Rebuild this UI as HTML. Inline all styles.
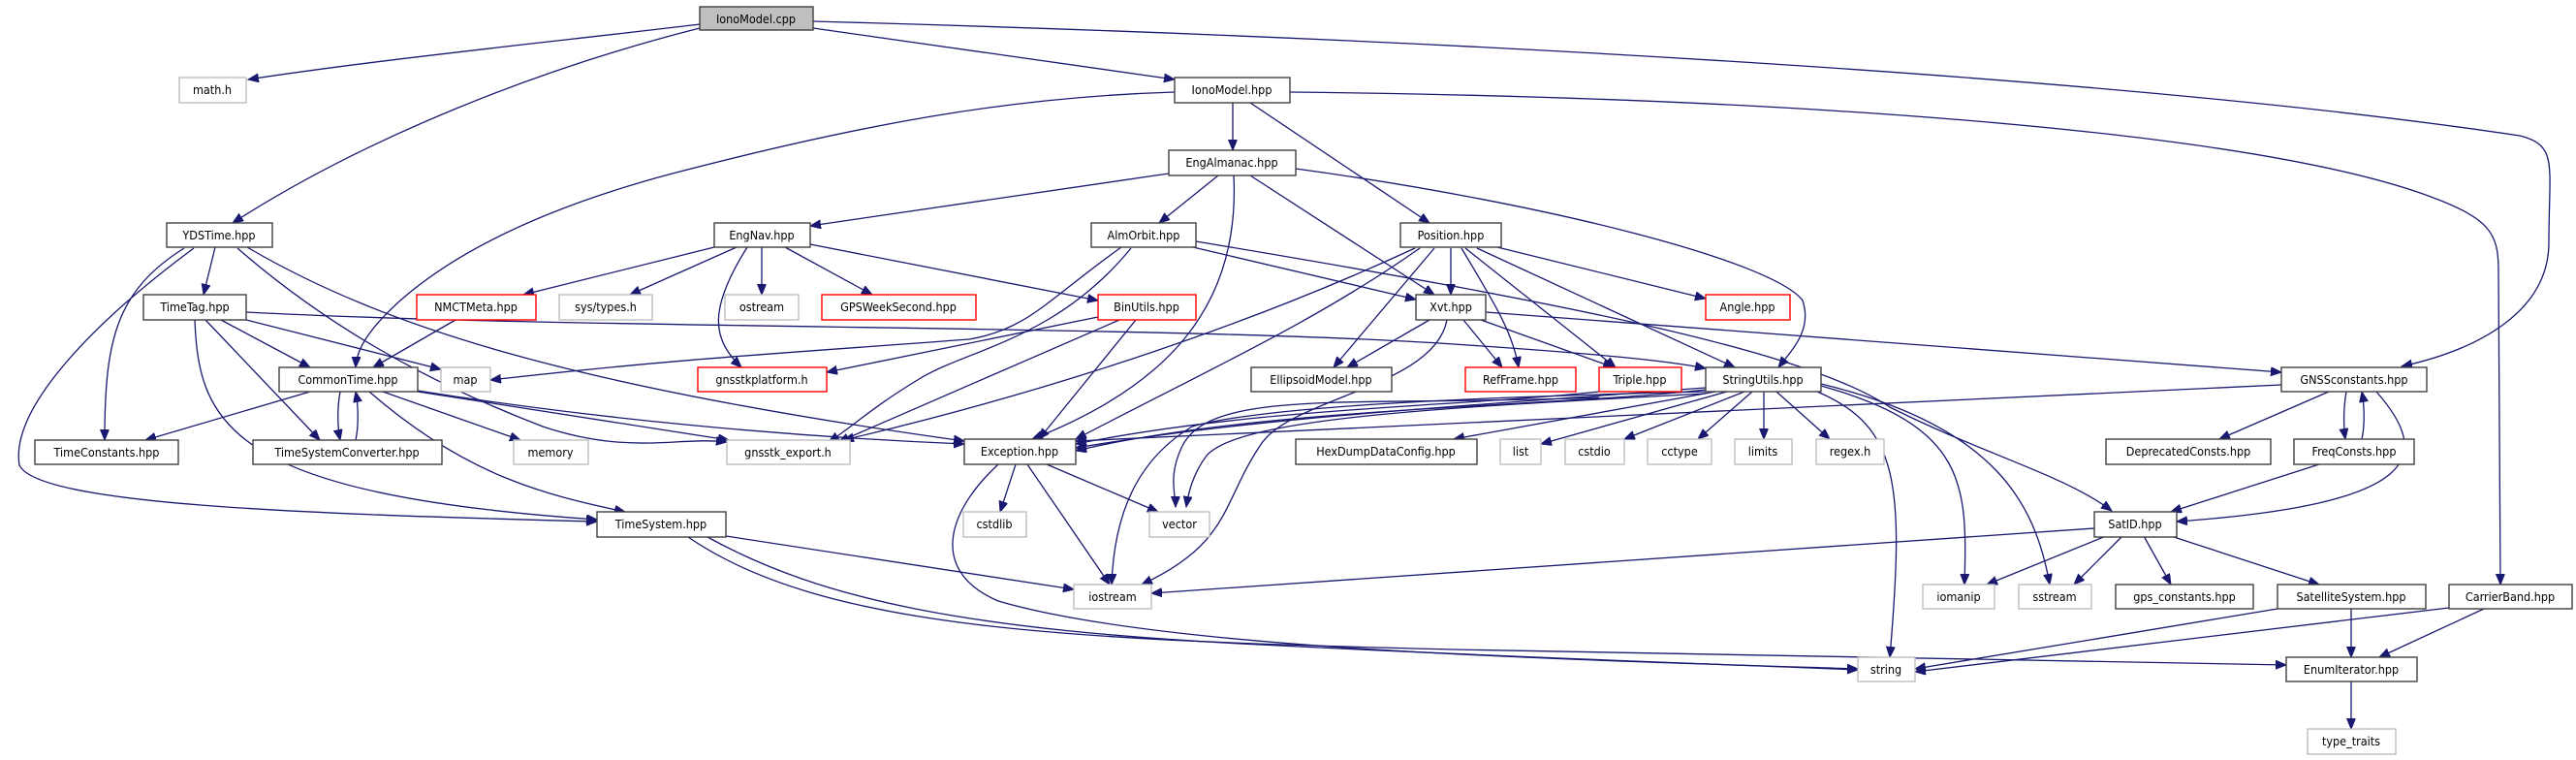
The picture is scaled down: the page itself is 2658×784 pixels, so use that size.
<!DOCTYPE html>
<html><head><meta charset="utf-8"><style>
html,body{margin:0;padding:0;background:#fff;}
svg{display:block;}
text{font-family:"DejaVu Sans Condensed","DejaVu Sans","Liberation Sans",sans-serif;font-size:12.5px;fill:#000;text-anchor:middle;}
.e{fill:none;stroke:#191970;stroke-width:1.3;marker-end:url(#a);}
.b{fill:#fff;stroke:#404040;stroke-width:1.4;}
.g{fill:#fff;stroke:#bfbfbf;stroke-width:1.4;}
.r{fill:#fff;stroke:#ff0000;stroke-width:1.4;}
</style></head><body>
<svg width="2658" height="784" viewBox="0 0 2658 784" xmlns="http://www.w3.org/2000/svg">
<defs><marker id="a" markerUnits="userSpaceOnUse" markerWidth="12" markerHeight="10" refX="11" refY="4.5" orient="auto"><path d="M0,0 L11,4.5 L0,9 z" fill="#191970" stroke="#191970"/></marker></defs>
<g>
<path class="e" d="M722,25 C600,40 400,60 256,82"/>
<path class="e" d="M722,29 C560,70 380,140 240,230"/>
<path class="e" d="M839,29 L1212,82"/>
<path class="e" d="M839,22 C1500,40 2200,80 2600,140 C2640,150 2630,170 2630,250 C2630,320 2560,360 2478,378"/>
<path class="e" d="M1272,106 L1272,155"/>
<path class="e" d="M1290,106 L1475,230"/>
<path class="e" d="M1212,95 C1050,100 900,125 690,180 C560,215 470,260 413,310 C380,340 368,360 367,379"/>
<path class="e" d="M1331,95 C1800,100 2300,130 2500,200 C2570,225 2578,240 2578,280 L2580,603"/>
<path class="e" d="M1206,179 L836,233"/>
<path class="e" d="M1257,181 L1196,230"/>
<path class="e" d="M1273,181 C1280,320 1200,400 1065,453"/>
<path class="e" d="M1290,181 L1480,304"/>
<path class="e" d="M1337,174 C1600,210 1830,270 1860,310 C1870,340 1850,360 1835,379"/>
<path class="e" d="M222,255 L210,304"/>
<path class="e" d="M190,256 C120,300 108,350 108,454"/>
<path class="e" d="M200,256 C100,330 10,420 20,480 C40,520 300,530 616,538"/>
<path class="e" d="M245,256 C330,330 430,390 560,440 C650,470 700,450 750,456"/>
<path class="e" d="M255,255 C400,340 600,400 995,455"/>
<path class="e" d="M254,322 C600,340 1200,335 1500,355 C1650,365 1720,372 1760,380"/>
<path class="e" d="M228,330 L320,379"/>
<path class="e" d="M254,330 L455,381"/>
<path class="e" d="M212,330 L330,454"/>
<path class="e" d="M201,330 C205,440 240,510 616,536"/>
<path class="e" d="M470,330 L385,379"/>
<path class="e" d="M737,255 L540,304"/>
<path class="e" d="M760,255 L650,304"/>
<path class="e" d="M786,255 L786,304"/>
<path class="e" d="M810,255 L900,304"/>
<path class="e" d="M771,255 C730,320 735,350 765,379"/>
<path class="e" d="M836,252 L1133,310"/>
<path class="e" d="M1157,255 C1080,310 1060,340 1000,350 C800,365 700,370 506,392"/>
<path class="e" d="M1167,256 C1090,350 1000,360 950,390 C900,420 880,440 855,456"/>
<path class="e" d="M1231,255 L1461,309"/>
<path class="e" d="M1234,249 C1600,310 1860,360 1950,420 C2050,470 2130,490 2179,527"/>
<path class="e" d="M1497,256 L1497,304"/>
<path class="e" d="M1545,255 L1760,308"/>
<path class="e" d="M1480,256 L1376,379"/>
<path class="e" d="M1508,256 C1540,310 1560,340 1567,379"/>
<path class="e" d="M1512,256 L1667,379"/>
<path class="e" d="M1524,256 L1790,379"/>
<path class="e" d="M1465,256 C1360,330 1250,380 1110,453"/>
<path class="e" d="M1460,256 C1300,330 1100,400 870,454"/>
<path class="e" d="M1475,330 L1390,379"/>
<path class="e" d="M1510,330 L1550,379"/>
<path class="e" d="M1528,330 L1665,379"/>
<path class="e" d="M1533,322 L2354,384"/>
<path class="e" d="M1493,330 C1480,400 1330,410 1300,460 C1260,520 1270,560 1178,603"/>
<path class="e" d="M1133,327 L853,384"/>
<path class="e" d="M1155,330 L865,456"/>
<path class="e" d="M1172,330 L1072,453"/>
<path class="e" d="M320,404 L150,454"/>
<path class="e" d="M351,404 C348,420 348,440 351,454"/>
<path class="e" d="M367,454 C370,440 370,420 367,404"/>
<path class="e" d="M395,404 L537,454"/>
<path class="e" d="M431,404 L752,454"/>
<path class="e" d="M431,403 C600,430 800,450 995,458"/>
<path class="e" d="M381,404 C480,490 560,510 645,528"/>
<path class="e" d="M1650,404 C1500,420 1300,420 1110,458"/>
<path class="e" d="M1650,410 C1400,420 1250,400 1220,460 C1205,490 1213,510 1213,523"/>
<path class="e" d="M1760,400 C1500,420 1300,430 1110,462"/>
<path class="e" d="M1760,402 C1600,420 1300,420 1110,465"/>
<path class="e" d="M1770,404 L1500,453"/>
<path class="e" d="M1782,404 L1590,458"/>
<path class="e" d="M1800,404 L1676,453"/>
<path class="e" d="M1808,404 L1752,453"/>
<path class="e" d="M1820,404 L1820,453"/>
<path class="e" d="M1833,404 L1888,453"/>
<path class="e" d="M1760,404 C1500,410 1300,420 1230,440 C1180,470 1150,520 1147,603"/>
<path class="e" d="M1760,406 C1500,420 1280,430 1245,470 C1230,490 1226,510 1224,523"/>
<path class="e" d="M1875,404 C1960,440 1965,500 1950,678"/>
<path class="e" d="M1879,398 C2030,440 2030,500 2027,603"/>
<path class="e" d="M1879,396 C2060,440 2100,520 2115,603"/>
<path class="e" d="M2354,397 L1110,455"/>
<path class="e" d="M2403,404 L2290,453"/>
<path class="e" d="M2421,404 C2418,420 2418,440 2420,453"/>
<path class="e" d="M2437,453 C2440,440 2440,420 2437,404"/>
<path class="e" d="M2452,404 C2510,470 2500,520 2246,538"/>
<path class="e" d="M2393,479 L2240,528"/>
<path class="e" d="M1048,479 L1032,528"/>
<path class="e" d="M1060,479 L1145,603"/>
<path class="e" d="M1080,479 L1195,528"/>
<path class="e" d="M1030,479 C975,530 960,590 1030,620 C1200,670 1600,680 1917,690"/>
<path class="e" d="M749,553 L1108,608"/>
<path class="e" d="M730,554 C850,620 1000,650 1300,665 C1600,680 1800,686 1917,691"/>
<path class="e" d="M710,554 C850,650 1100,660 1500,670 C1900,680 2200,682 2359,686"/>
<path class="e" d="M2161,545 L1188,612"/>
<path class="e" d="M2173,553 L2050,603"/>
<path class="e" d="M2190,553 L2140,603"/>
<path class="e" d="M2212,553 L2240,603"/>
<path class="e" d="M2240,553 L2393,603"/>
<path class="e" d="M2350,628 L1976,690"/>
<path class="e" d="M2426,628 L2426,678"/>
<path class="e" d="M2527,627 L1976,693"/>
<path class="e" d="M2563,628 L2455,678"/>
<path class="e" d="M2426,703 L2426,752"/>
</g>
<g>
<rect x="722" y="7" width="117" height="24" fill="#bfbfbf" stroke="#404040" stroke-width="1.4"/><text x="780" y="24">IonoModel.cpp</text>
<rect class="g" x="185" y="80" width="69" height="26"/><text x="219" y="97">math.h</text>
<rect class="b" x="1212" y="80" width="119" height="26"/><text x="1271" y="97">IonoModel.hpp</text>
<rect class="b" x="1206" y="155" width="131" height="26"/><text x="1271" y="172">EngAlmanac.hpp</text>
<rect class="b" x="172" y="230" width="109" height="25"/><text x="226" y="247">YDSTime.hpp</text>
<rect class="b" x="737" y="230" width="99" height="25"/><text x="786" y="247">EngNav.hpp</text>
<rect class="b" x="1126" y="230" width="108" height="25"/><text x="1180" y="247">AlmOrbit.hpp</text>
<rect class="b" x="1445" y="230" width="104" height="25"/><text x="1497" y="247">Position.hpp</text>
<rect class="b" x="148" y="304" width="106" height="26"/><text x="201" y="321">TimeTag.hpp</text>
<rect class="r" x="430" y="304" width="123" height="26"/><text x="491" y="321">NMCTMeta.hpp</text>
<rect class="g" x="577" y="304" width="96" height="26"/><text x="625" y="321">sys/types.h</text>
<rect class="g" x="748" y="304" width="76" height="26"/><text x="786" y="321">ostream</text>
<rect class="r" x="848" y="304" width="159" height="26"/><text x="927" y="321">GPSWeekSecond.hpp</text>
<rect class="r" x="1133" y="304" width="101" height="26"/><text x="1183" y="321">BinUtils.hpp</text>
<rect class="b" x="1461" y="304" width="72" height="26"/><text x="1497" y="321">Xvt.hpp</text>
<rect class="r" x="1760" y="304" width="87" height="26"/><text x="1803" y="321">Angle.hpp</text>
<rect class="b" x="288" y="379" width="143" height="25"/><text x="359" y="396">CommonTime.hpp</text>
<rect class="g" x="455" y="379" width="51" height="25"/><text x="480" y="396">map</text>
<rect class="r" x="720" y="379" width="133" height="25"/><text x="786" y="396">gnsstkplatform.h</text>
<rect class="b" x="1291" y="379" width="145" height="25"/><text x="1363" y="396">EllipsoidModel.hpp</text>
<rect class="r" x="1512" y="379" width="114" height="25"/><text x="1569" y="396">RefFrame.hpp</text>
<rect class="r" x="1650" y="379" width="85" height="25"/><text x="1692" y="396">Triple.hpp</text>
<rect class="b" x="1760" y="379" width="119" height="25"/><text x="1819" y="396">StringUtils.hpp</text>
<rect class="b" x="2354" y="379" width="150" height="25"/><text x="2429" y="396">GNSSconstants.hpp</text>
<rect class="b" x="36" y="454" width="148" height="25"/><text x="110" y="471">TimeConstants.hpp</text>
<rect class="b" x="261" y="454" width="195" height="25"/><text x="358" y="471">TimeSystemConverter.hpp</text>
<rect class="g" x="530" y="454" width="77" height="25"/><text x="568" y="471">memory</text>
<rect class="g" x="750" y="454" width="127" height="25"/><text x="813" y="471">gnsstk_export.h</text>
<rect class="b" x="995" y="453" width="115" height="26"/><text x="1052" y="470">Exception.hpp</text>
<rect class="b" x="1337" y="453" width="187" height="26"/><text x="1430" y="470">HexDumpDataConfig.hpp</text>
<rect class="g" x="1548" y="453" width="42" height="26"/><text x="1569" y="470">list</text>
<rect class="g" x="1615" y="453" width="61" height="26"/><text x="1645" y="470">cstdio</text>
<rect class="g" x="1700" y="453" width="66" height="26"/><text x="1733" y="470">cctype</text>
<rect class="g" x="1790" y="453" width="59" height="26"/><text x="1819" y="470">limits</text>
<rect class="g" x="1874" y="453" width="70" height="26"/><text x="1909" y="470">regex.h</text>
<rect class="b" x="2173" y="453" width="170" height="26"/><text x="2258" y="470">DeprecatedConsts.hpp</text>
<rect class="b" x="2367" y="453" width="124" height="26"/><text x="2429" y="470">FreqConsts.hpp</text>
<rect class="b" x="616" y="528" width="133" height="26"/><text x="682" y="545">TimeSystem.hpp</text>
<rect class="g" x="994" y="528" width="65" height="26"/><text x="1026" y="545">cstdlib</text>
<rect class="g" x="1186" y="528" width="62" height="26"/><text x="1217" y="545">vector</text>
<rect class="b" x="2161" y="528" width="85" height="26"/><text x="2203" y="545">SatID.hpp</text>
<rect class="g" x="1108" y="603" width="80" height="25"/><text x="1148" y="620">iostream</text>
<rect class="g" x="1984" y="603" width="74" height="25"/><text x="2021" y="620">iomanip</text>
<rect class="g" x="2083" y="603" width="75" height="25"/><text x="2120" y="620">sstream</text>
<rect class="b" x="2183" y="603" width="142" height="25"/><text x="2254" y="620">gps_constants.hpp</text>
<rect class="b" x="2350" y="603" width="153" height="25"/><text x="2426" y="620">SatelliteSystem.hpp</text>
<rect class="b" x="2527" y="603" width="127" height="25"/><text x="2590" y="620">CarrierBand.hpp</text>
<rect class="g" x="1917" y="678" width="59" height="25"/><text x="1946" y="695">string</text>
<rect class="b" x="2359" y="678" width="135" height="25"/><text x="2426" y="695">EnumIterator.hpp</text>
<rect class="g" x="2381" y="752" width="91" height="26"/><text x="2426" y="769">type_traits</text>
</g>
</svg>
</body></html>
